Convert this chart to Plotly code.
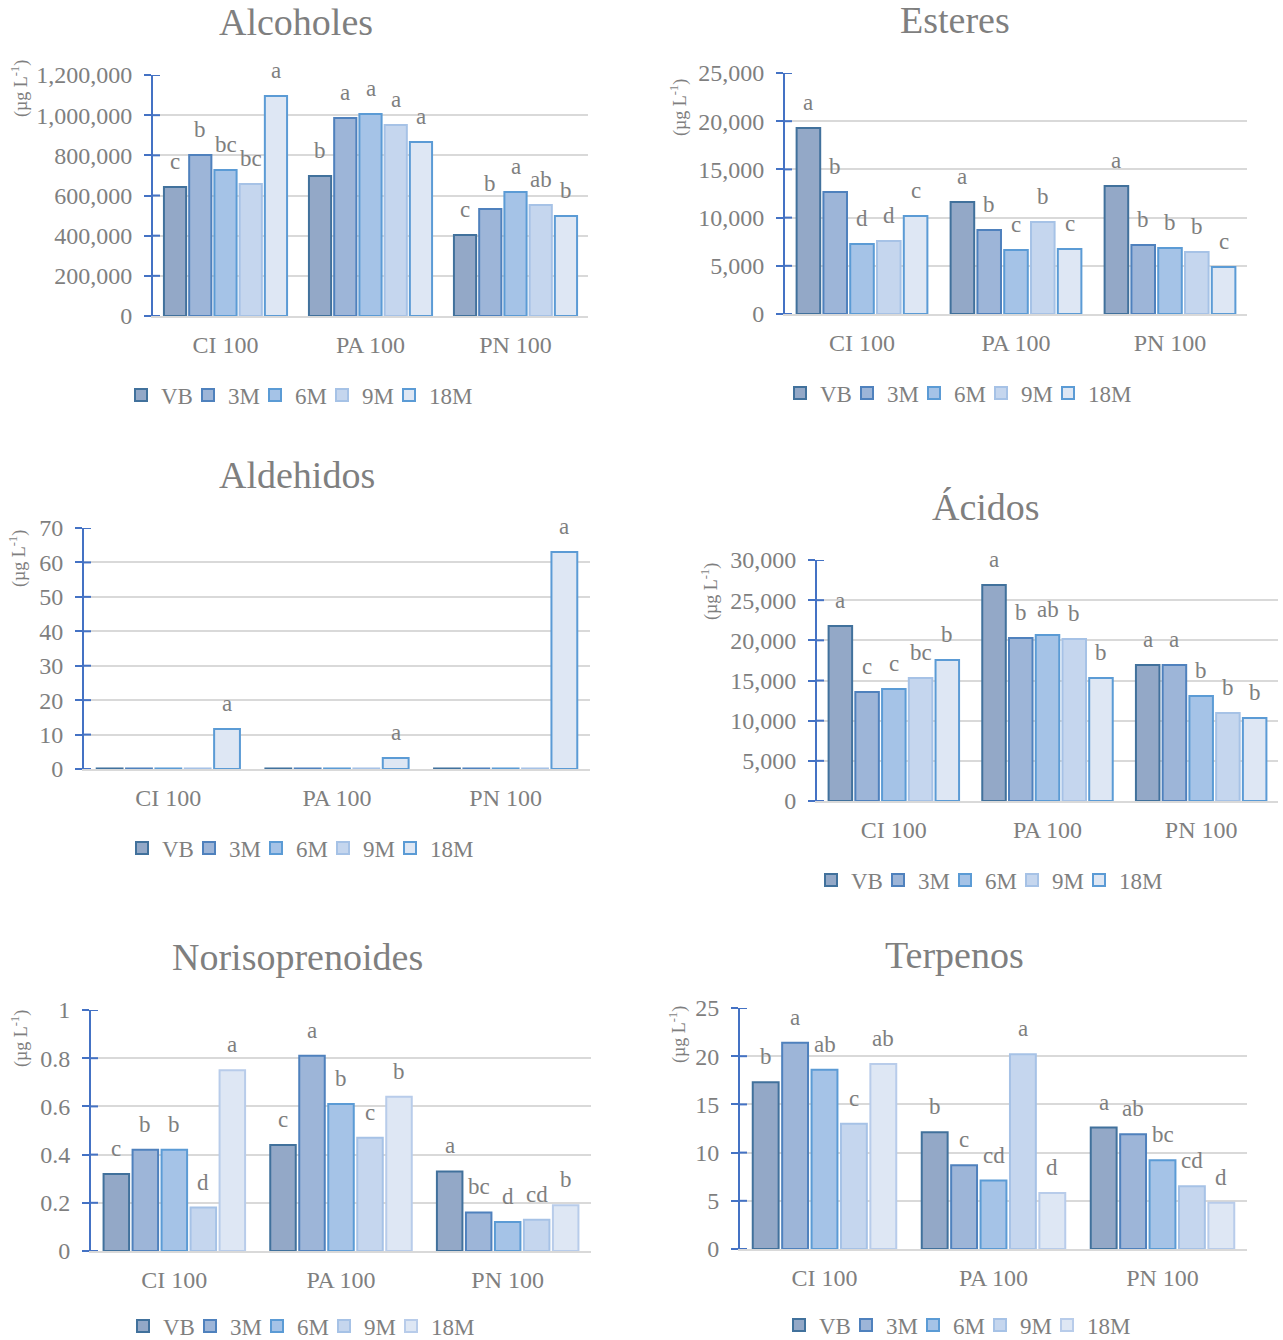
import plotly.graph_objects as go

W, H = 1283, 1340

categories = ["CI 100", "PA 100", "PN 100"]
series_names = ["VB", "3M", "6M", "9M", "18M"]

# values: one list per series (VB, 3M, 6M, 9M, 18M), each over CI / PA / PN
alcoholes_vals = [
    [642000, 697000, 403000],
    [802000, 986000, 533000],
    [727000, 1006000, 617000],
    [657000, 951000, 553000],
    [1095000, 866000, 498000],
]
alcoholes_letters = [
    ["c", "b", "c"],
    ["b", "a", "b"],
    ["bc", "a", "a"],
    ["bc", "a", "ab"],
    ["a", "a", "b"],
]

esteres_vals = [
    [19300, 11620, 13280],
    [12650, 8710, 7160],
    [7260, 6640, 6850],
    [7570, 9540, 6430],
    [10170, 6740, 4880],
]
esteres_letters = [
    ["a", "a", "a"],
    ["b", "b", "b"],
    ["d", "c", "b"],
    ["d", "b", "b"],
    ["c", "c", "c"],
]

aldehidos_vals = [
    [0.15, 0.15, 0.15],
    [0.15, 0.15, 0.15],
    [0.15, 0.15, 0.15],
    [0.15, 0.15, 0.15],
    [11.6, 3.2, 63.0],
]
aldehidos_letters = [
    ["", "", ""],
    ["", "", ""],
    ["", "", ""],
    ["", "", ""],
    ["a", "a", "a"],
]

acidos_vals = [
    [21780, 26890, 16930],
    [13570, 20290, 16930],
    [13940, 20660, 13070],
    [15310, 20170, 10950],
    [17550, 15310, 10330],
]
acidos_letters = [
    ["a", "a", "a"],
    ["c", "b", "a"],
    ["c", "ab", "b"],
    ["bc", "b", "b"],
    ["b", "b", "b"],
]

norisoprenoides_vals = [
    [0.32, 0.44, 0.33],
    [0.42, 0.81, 0.16],
    [0.42, 0.61, 0.12],
    [0.18, 0.47, 0.13],
    [0.75, 0.64, 0.19],
]
norisoprenoides_letters = [
    ["c", "c", "a"],
    ["b", "a", "bc"],
    ["b", "b", "d"],
    ["d", "c", "cd"],
    ["a", "b", "b"],
]

terpenos_vals = [
    [17.3, 12.1, 12.6],
    [21.4, 8.7, 11.9],
    [18.6, 7.1, 9.2],
    [13.0, 20.2, 6.5],
    [19.2, 5.8, 4.8],
]
terpenos_letters = [
    ["b", "b", "a"],
    ["a", "c", "ab"],
    ["ab", "cd", "bc"],
    ["c", "a", "cd"],
    ["ab", "d", "d"],
]

FONT = "Liberation Serif"
GRAY = "#7f7f7f"
AXIS_BLUE = "#4472C4"
GRID = "#D9D9D9"

fills = ["#93A8C7", "#9DB5D8", "#A5C3E7", "#C5D6EE", "#DEE7F4"]
lines_a = ["#41719C", "#4F81BD", "#5B9BD5", "#A6C2E6", "#5B9BD5"]
lines_b = ["#41719C", "#4F81BD", "#5B9BD5", "#A6C2E6", "#B8CCEA"]

BARGAP = 0.13
BARGROUPGAP = 0.12


def px_x(v):
    return v / W


def px_y(v):
    return 1 - v / H


panels = [
    dict(title="Alcoholes", vals=alcoholes_vals, letters=alcoholes_letters,
         rng=[0, 1200000], dtick=200000, fmt=",d",
         xd=(153, 588), yd=(75, 316), t=(296, 22), yt=(20, 89), lg=(143, 395), lines=lines_a),
    dict(title="Esteres", vals=esteres_vals, letters=esteres_letters,
         rng=[0, 25000], dtick=5000, fmt=",d",
         xd=(785, 1247), yd=(73, 314), t=(955, 20), yt=(679, 108), lg=(802, 393), lines=lines_a),
    dict(title="Aldehidos", vals=aldehidos_vals, letters=aldehidos_letters,
         rng=[0, 70], dtick=10, fmt="",
         xd=(84, 590), yd=(528, 769), t=(297, 475), yt=(18, 559), lg=(144, 848), lines=lines_a),
    dict(title="Ácidos", vals=acidos_vals, letters=acidos_letters,
         rng=[0, 30000], dtick=5000, fmt=",d",
         xd=(817, 1278), yd=(560, 801), t=(986, 507), yt=(710, 592), lg=(833, 880), lines=lines_a),
    dict(title="Norisoprenoides", vals=norisoprenoides_vals, letters=norisoprenoides_letters,
         rng=[0, 1], dtick=0.2, fmt="",
         xd=(91, 591), yd=(1010, 1251), t=(297, 957), yt=(20, 1039), lg=(145, 1326), lines=lines_b),
    dict(title="Terpenos", vals=terpenos_vals, letters=terpenos_letters,
         rng=[0, 25], dtick=5, fmt="",
         xd=(740, 1247), yd=(1008, 1249), t=(954, 955), yt=(678, 1035), lg=(801, 1325), lines=lines_b),
]

fig = go.Figure()
annotations = []
shapes = []
layout = {}

slot = (1 - BARGAP) / 5

for k, p in enumerate(panels, start=1):
    xname = "x" if k == 1 else f"x{k}"
    yname = "y" if k == 1 else f"y{k}"
    xkey = "xaxis" if k == 1 else f"xaxis{k}"
    ykey = "yaxis" if k == 1 else f"yaxis{k}"
    lgname = "legend" if k == 1 else f"legend{k}"

    for j, sname in enumerate(series_names):
        fig.add_trace(go.Bar(
            x=categories, y=p["vals"][j], name=sname,
            marker=dict(color=fills[j], line=dict(color=p["lines"][j], width=2)),
            xaxis=xname, yaxis=yname, legend=lgname, hoverinfo="skip",
        ))
        for i in range(3):
            lt = p["letters"][j][i]
            if lt:
                annotations.append(dict(
                    x=i + (j - 2) * slot, y=p["vals"][j][i], xref=xname, yref=yname,
                    text=lt, showarrow=False, yanchor="bottom", yshift=11,
                    font=dict(family=FONT, size=23, color=GRAY),
                ))
    # invisible spacer legend entry so the last legend label is not clipped
    fig.add_trace(go.Scatter(
        x=[None], y=[None], name=" ", mode="markers",
        marker=dict(color="rgba(0,0,0,0)", size=1),
        xaxis=xname, yaxis=yname, legend=lgname, hoverinfo="skip",
    ))

    # inner half of the crossing tick marks
    nt = int(round(p["rng"][1] / p["dtick"]))
    for t in range(nt + 1):
        v = t * p["dtick"]
        shapes.append(dict(
            type="line", xref=f"{xname} domain", yref=yname,
            xsizemode="pixel", xanchor=0, x0=0, x1=7, y0=v, y1=v,
            line=dict(color=AXIS_BLUE, width=2), layer="above",
        ))

    layout[xkey] = dict(
        domain=[px_x(p["xd"][0]), px_x(p["xd"][1])], anchor=yname,
        showline=True, linecolor=GRID, linewidth=2, ticks="", showgrid=False,
        tickfont=dict(family=FONT, size=24, color=GRAY), ticklabelstandoff=6,
        fixedrange=True,
    )
    layout[ykey] = dict(
        domain=[px_y(p["yd"][1]), px_y(p["yd"][0])], anchor=xname,
        range=p["rng"], dtick=p["dtick"], tick0=0, tickformat=p["fmt"],
        showgrid=True, gridcolor=GRID, gridwidth=1.5, zeroline=False,
        showline=True, linecolor=AXIS_BLUE, linewidth=2,
        ticks="outside", ticklen=7, tickwidth=2, tickcolor=AXIS_BLUE,
        tickfont=dict(family=FONT, size=24, color=GRAY), ticklabelstandoff=7,
        fixedrange=True,
    )
    layout[lgname] = dict(
        orientation="h", xref="container", yref="container",
        x=px_x(p["lg"][0] - 22), y=px_y(p["lg"][1]),
        xanchor="left", yanchor="middle", bgcolor="rgba(0,0,0,0)",
        font=dict(family=FONT, size=23, color=GRAY), itemwidth=30,
        entrywidth=22, entrywidthmode="pixels",
        traceorder="normal", tracegroupgap=0,
    )
    annotations.append(dict(
        x=px_x(p["t"][0]), y=px_y(p["t"][1]), xref="paper", yref="paper",
        text=p["title"], showarrow=False, xanchor="center", yanchor="middle",
        font=dict(family=FONT, size=38, color=GRAY),
    ))
    annotations.append(dict(
        x=px_x(p["yt"][0]), y=px_y(p["yt"][1]), xref="paper", yref="paper",
        text="(µg L<sup>-1</sup>)", showarrow=False, textangle=-90,
        xanchor="center", yanchor="middle",
        font=dict(family=FONT, size=18, color=GRAY),
    ))

fig.update_layout(
    width=W, height=H, margin=dict(l=0, r=0, t=0, b=0, autoexpand=False),
    paper_bgcolor="white", plot_bgcolor="white",
    font=dict(family=FONT, color=GRAY),
    barmode="group", bargap=BARGAP, bargroupgap=BARGROUPGAP,
    annotations=annotations, shapes=shapes, showlegend=True,
    **layout,
)

fig.write_html(
    "out.html",
    config={"displayModeBar": False},
    post_script=(
        "var d=document.getElementById('{plot_id}');"
        "d.style.position='fixed';d.style.top='0px';d.style.left='0px';"
        "document.body.style.margin='0';document.body.style.overflow='hidden';"
    ),
)
